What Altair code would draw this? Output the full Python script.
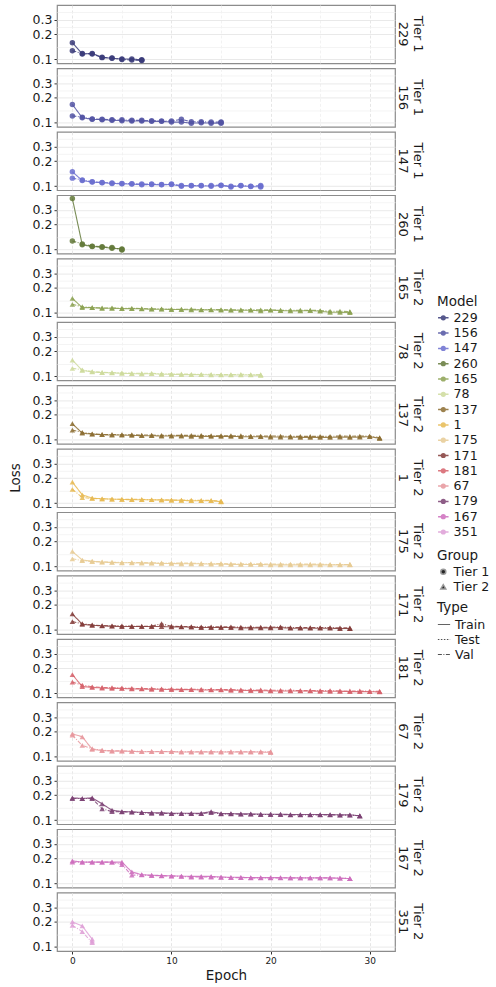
import altair as alt
import pandas as pd

# ---- categories ----
models = ["229", "156", "147", "260", "165", "78", "137", "1", "175",
          "171", "181", "67", "179", "167", "351"]
tiers = ["Tier 1", "Tier 1", "Tier 1", "Tier 1", "Tier 2", "Tier 2", "Tier 2",
         "Tier 2", "Tier 2", "Tier 2", "Tier 2", "Tier 2", "Tier 2", "Tier 2", "Tier 2"]
model_colors = ["#393b79", "#5254a3", "#6b6ecf", "#637939", "#8ca252", "#cedb9c",
                "#8c6d31", "#e7ba52", "#e7cb94", "#843c39", "#d6616b", "#e7969c",
                "#7b4173", "#ce6dbd", "#de9ed6"]
loss_types = ["Train", "Test", "Val"]
type_dashes = [[1, 0], [1.5, 1.5], [4, 1.5, 1, 1.5]]

# ---- series values (loss per epoch) ----
train_229 = [0.159, 0.116, 0.118, 0.106, 0.103, 0.101, 0.101, 0.099]
val_229 = [0.127, 0.118, 0.116, 0.105, 0.104, 0.100, 0.098, 0.097]

train_156 = [0.166, 0.115, 0.110, 0.109, 0.107, 0.106, 0.105, 0.105, 0.104, 0.104,
             0.102, 0.102, 0.099, 0.100, 0.099, 0.099]
val_156 = [0.121, 0.117, 0.111, 0.110, 0.109, 0.109, 0.107, 0.107, 0.106, 0.105,
           0.105, 0.110, 0.103, 0.103, 0.102, 0.102]

train_147 = [0.149, 0.117, 0.112, 0.110, 0.108, 0.107, 0.106, 0.104, 0.105, 0.104,
             0.105, 0.100, 0.101, 0.101, 0.100, 0.102, 0.098, 0.101, 0.099, 0.098]
val_147 = [0.125, 0.119, 0.113, 0.111, 0.109, 0.108, 0.107, 0.106, 0.106, 0.105,
           0.106, 0.102, 0.102, 0.102, 0.102, 0.103, 0.100, 0.102, 0.100, 0.102]

train_260 = [0.410, 0.114, 0.109, 0.107, 0.104, 0.102]
val_260 = [0.127, 0.117, 0.110, 0.108, 0.106, 0.100]

train_165 = [0.150, 0.116, 0.116, 0.114, 0.114, 0.113, 0.113, 0.112, 0.111, 0.111,
             0.110, 0.110, 0.109, 0.109, 0.109, 0.108, 0.108, 0.108, 0.108, 0.106,
             0.108, 0.107, 0.106, 0.106, 0.107, 0.105, 0.102, 0.102, 0.101]
val_165 = [0.127, 0.119, 0.116, 0.115, 0.115, 0.114, 0.114, 0.113, 0.112, 0.112,
           0.111, 0.111, 0.111, 0.110, 0.110, 0.110, 0.109, 0.109, 0.109, 0.109,
           0.109, 0.108, 0.108, 0.108, 0.108, 0.107, 0.105, 0.105, 0.104]

train_78 = [0.157, 0.118, 0.113, 0.111, 0.110, 0.109, 0.108, 0.107, 0.108, 0.106,
            0.106, 0.105, 0.105, 0.105, 0.104, 0.104, 0.104, 0.104, 0.104, 0.103]
val_78 = [0.125, 0.120, 0.114, 0.112, 0.111, 0.110, 0.109, 0.109, 0.109, 0.108,
          0.107, 0.107, 0.106, 0.106, 0.106, 0.105, 0.105, 0.106, 0.105, 0.105]

train_137 = [0.156, 0.120, 0.117, 0.115, 0.114, 0.114, 0.113, 0.112, 0.112, 0.111,
             0.111, 0.111, 0.110, 0.110, 0.110, 0.110, 0.110, 0.109, 0.109, 0.109,
             0.108, 0.108, 0.108, 0.107, 0.107, 0.107, 0.107, 0.108, 0.107, 0.108,
             0.109, 0.104]
val_137 = [0.131, 0.123, 0.118, 0.116, 0.116, 0.115, 0.115, 0.114, 0.114, 0.113,
           0.113, 0.113, 0.113, 0.113, 0.112, 0.112, 0.112, 0.112, 0.111, 0.111,
           0.111, 0.111, 0.110, 0.110, 0.110, 0.110, 0.110, 0.111, 0.110, 0.111,
           0.111, 0.106]

train_1 = [0.179, 0.126, 0.115, 0.113, 0.112, 0.111, 0.110, 0.110, 0.110, 0.109,
           0.109, 0.108, 0.107, 0.107, 0.107, 0.104]
val_1 = [0.147, 0.117, 0.114, 0.113, 0.112, 0.111, 0.111, 0.111, 0.110, 0.110,
         0.109, 0.109, 0.109, 0.108, 0.108, 0.106]

train_175 = [0.152, 0.120, 0.116, 0.113, 0.112, 0.111, 0.111, 0.110, 0.110, 0.109,
             0.109, 0.108, 0.108, 0.108, 0.107, 0.107, 0.106, 0.106, 0.106, 0.106,
             0.105, 0.105, 0.105, 0.105, 0.105, 0.105, 0.105, 0.105, 0.105]
val_175 = [0.124, 0.118, 0.115, 0.114, 0.113, 0.112, 0.112, 0.112, 0.111, 0.111,
           0.110, 0.110, 0.110, 0.109, 0.109, 0.109, 0.108, 0.108, 0.108, 0.108,
           0.107, 0.107, 0.107, 0.107, 0.107, 0.107, 0.106, 0.106, 0.106]

train_171 = [0.156, 0.117, 0.114, 0.112, 0.111, 0.110, 0.110, 0.110, 0.110, 0.110,
             0.109, 0.109, 0.108, 0.107, 0.107, 0.107, 0.107, 0.106, 0.106, 0.106,
             0.106, 0.107, 0.105, 0.105, 0.105, 0.105, 0.105, 0.104, 0.104]
val_171 = [0.126, 0.119, 0.115, 0.113, 0.112, 0.112, 0.111, 0.111, 0.111, 0.119,
           0.111, 0.110, 0.110, 0.109, 0.109, 0.109, 0.109, 0.108, 0.108, 0.108,
           0.108, 0.109, 0.107, 0.107, 0.107, 0.107, 0.107, 0.106, 0.106]

train_181 = [0.168, 0.121, 0.118, 0.116, 0.115, 0.115, 0.113, 0.113, 0.112, 0.112,
             0.111, 0.111, 0.111, 0.110, 0.110, 0.110, 0.109, 0.109, 0.108, 0.108,
             0.107, 0.107, 0.107, 0.107, 0.107, 0.106, 0.106, 0.106, 0.105, 0.105,
             0.105, 0.104]
val_181 = [0.137, 0.126, 0.120, 0.118, 0.117, 0.116, 0.115, 0.114, 0.114, 0.113,
           0.113, 0.112, 0.112, 0.112, 0.111, 0.111, 0.111, 0.110, 0.110, 0.110,
           0.109, 0.109, 0.109, 0.108, 0.108, 0.108, 0.108, 0.107, 0.107, 0.107,
           0.106, 0.106]

train_67 = [0.189, 0.174, 0.123, 0.119, 0.117, 0.117, 0.116, 0.115, 0.115, 0.115,
            0.115, 0.114, 0.114, 0.114, 0.114, 0.114, 0.114, 0.114, 0.114, 0.114,
            0.113]
val_67 = [0.182, 0.137, 0.125, 0.120, 0.118, 0.118, 0.117, 0.116, 0.116, 0.116,
          0.116, 0.115, 0.115, 0.115, 0.115, 0.115, 0.115, 0.115, 0.115, 0.115,
          0.115]

train_179 = [0.186, 0.182, 0.186, 0.157, 0.132, 0.127, 0.126, 0.124, 0.123, 0.123,
             0.121, 0.121, 0.121, 0.121, 0.127, 0.120, 0.120, 0.119, 0.119, 0.118,
             0.118, 0.118, 0.117, 0.117, 0.117, 0.117, 0.117, 0.116, 0.116, 0.113]
val_179 = [0.182, 0.182, 0.182, 0.137, 0.127, 0.126, 0.125, 0.123, 0.121, 0.121,
           0.120, 0.120, 0.120, 0.120, 0.123, 0.119, 0.119, 0.118, 0.118, 0.117,
           0.117, 0.117, 0.116, 0.116, 0.116, 0.116, 0.116, 0.115, 0.115, 0.113]

train_167 = [0.188, 0.181, 0.181, 0.181, 0.181, 0.181, 0.138, 0.128, 0.126, 0.125,
             0.124, 0.123, 0.122, 0.122, 0.122, 0.120, 0.119, 0.119, 0.118, 0.118,
             0.118, 0.118, 0.117, 0.117, 0.117, 0.117, 0.117, 0.116, 0.115]
val_167 = [0.181, 0.181, 0.181, 0.181, 0.181, 0.169, 0.126, 0.127, 0.125, 0.124,
           0.123, 0.122, 0.120, 0.120, 0.120, 0.119, 0.118, 0.118, 0.117, 0.117,
           0.117, 0.117, 0.117, 0.117, 0.117, 0.117, 0.117, 0.116, 0.115]

train_351 = [0.200, 0.179, 0.124]
val_351 = [0.182, 0.153, 0.113]

# test loss: one value at the final epoch of each model
test_final = [0.098, 0.101, 0.100, 0.099, 0.103, 0.104, 0.105, 0.105, 0.106,
              0.104, 0.105, 0.113, 0.113, 0.115, 0.118]

train_series = [train_229, train_156, train_147, train_260, train_165, train_78,
                train_137, train_1, train_175, train_171, train_181, train_67,
                train_179, train_167, train_351]
val_series = [val_229, val_156, val_147, val_260, val_165, val_78, val_137, val_1,
              val_175, val_171, val_181, val_67, val_179, val_167, val_351]

# ---- long table ----
rows = []
for m, g, tr, va, te in zip(models, tiers, train_series, val_series, test_final):
    strip = g + "|" + m
    for e, v in enumerate(tr):
        rows.append({"Model": m, "Group": g, "Type": "Train", "Epoch": e, "Loss": v, "strip": strip})
    for e, v in enumerate(va):
        rows.append({"Model": m, "Group": g, "Type": "Val", "Epoch": e, "Loss": v, "strip": strip})
    rows.append({"Model": m, "Group": g, "Type": "Test", "Epoch": len(tr) - 1, "Loss": te, "strip": strip})
df = pd.DataFrame(rows)
strip_order = [g + "|" + m for m, g in zip(models, tiers)]

FONT = "DejaVu Sans"
major_y = "datum.value == 0.1 || datum.value == 0.2 || datum.value == 0.3"
major_x = "datum.value % 10 == 0"

x_enc = alt.X(
    "Epoch:Q",
    scale=alt.Scale(domain=[-1.55, 32.55], nice=False, zero=False),
    axis=alt.Axis(
        title="Epoch", values=[0, 5, 10, 15, 20, 25, 30],
        labelExpr="datum.value % 10 == 0 ? datum.label : ''",
        gridColor={"condition": {"test": major_x, "value": "#e0e0e0"}, "value": "#efefef"},
        gridDash=[3, 2], gridWidth=0.8,
        tickOpacity={"condition": {"test": major_x, "value": 1}, "value": 0},
        tickColor="#333333", tickSize=3, domain=False,
        labelFontSize=9, labelColor="#1a1a1a", labelPadding=2,
        titleFontSize=13.5, titleFontWeight="normal", titleColor="#1a1a1a", titlePadding=3,
    ),
)
y_enc = alt.Y(
    "Loss:Q",
    scale=alt.Scale(type="log", domain=[0.0895, 0.4506], nice=False, zero=False),
    axis=alt.Axis(
        title=None, values=[0.1, 0.1414, 0.2, 0.245, 0.3, 0.367], format=".1f",
        labelExpr="(datum.value == 0.1 || datum.value == 0.2 || datum.value == 0.3) ? datum.label : ''",
        gridColor={"condition": {"test": major_y, "value": "#e3e3e3"}, "value": "#f1f1f1"},
        gridWidth=0.8,
        tickOpacity={"condition": {"test": major_y, "value": 1}, "value": 0},
        tickColor="#333333", tickSize=3, domain=False,
        labelFontSize=12.5, labelColor="#1a1a1a", labelPadding=2,
    ),
)
color_enc = alt.Color(
    "Model:N", sort=models,
    scale=alt.Scale(domain=models, range=model_colors),
    legend=alt.Legend(
        title="Model", orient="none", legendX=380, legendY=290,
        symbolType="M-1,0H1M-0.35,0A0.35,0.35,0,1,1,0.35,0A0.35,0.35,0,1,1,-0.35,0Z",
        symbolSize=110, symbolStrokeWidth=1.5, rowPadding=2.3,
    ),
)

line = alt.Chart().mark_line(strokeWidth=1.1, opacity=0.85).encode(
    x=x_enc, y=y_enc, color=color_enc,
    strokeDash=alt.StrokeDash(
        "Type:N", sort=loss_types,
        scale=alt.Scale(domain=loss_types, range=type_dashes),
        legend=alt.Legend(title="Type", orient="none", legendX=380, legendY=596,
                          symbolType="stroke", symbolSize=150, symbolStrokeWidth=1,
                          symbolStrokeColor="#333333", rowPadding=1),
    ),
)
point = alt.Chart().mark_point(filled=True, size=30, opacity=0.85).encode(
    x=x_enc, y=y_enc, color=color_enc,
    shape=alt.Shape(
        "Group:N",
        scale=alt.Scale(domain=["Tier 1", "Tier 2"], range=["circle", "triangle-up"]),
        legend=alt.Legend(title="Group", orient="none", legendX=380, legendY=544,
                          symbolFillColor="black", symbolSize=25, rowPadding=2),
    ),
)

chart = alt.layer(line, point, data=df).properties(width=338, height=58.4).facet(
    row=alt.Row(
        "strip:N", sort=strip_order,
        header=alt.Header(
            labelExpr="split(datum.value, '|')", labelAngle=90, labelOrient="right",
            labelAlign="center", labelBaseline="middle", labelFontSize=13,
            labelColor="#1a1a1a", labelPadding=-5, labelFont=FONT,
            title="Loss", titleOrient="left", titleFontSize=13.5, titlePadding=0,
            titleFontWeight="normal", titleColor="#1a1a1a", titleFont=FONT,
        ),
    ),
    spacing=4.4,
    bounds="flush",
).configure(
    font=FONT,
).configure_view(
    stroke="#8c8c8c", strokeWidth=1.2, fill="white",
).configure_legend(
    titleFontSize=13.5, titleFontWeight="normal", titleColor="#1a1a1a",
    labelFontSize=12.6, labelColor="#1a1a1a", titlePadding=3,
).properties(
    padding={"left": 8, "top": 4, "right": 0, "bottom": 5},
    background="white",
)

chart.save("out.html", embed_options={"renderer": "svg", "actions": False})
